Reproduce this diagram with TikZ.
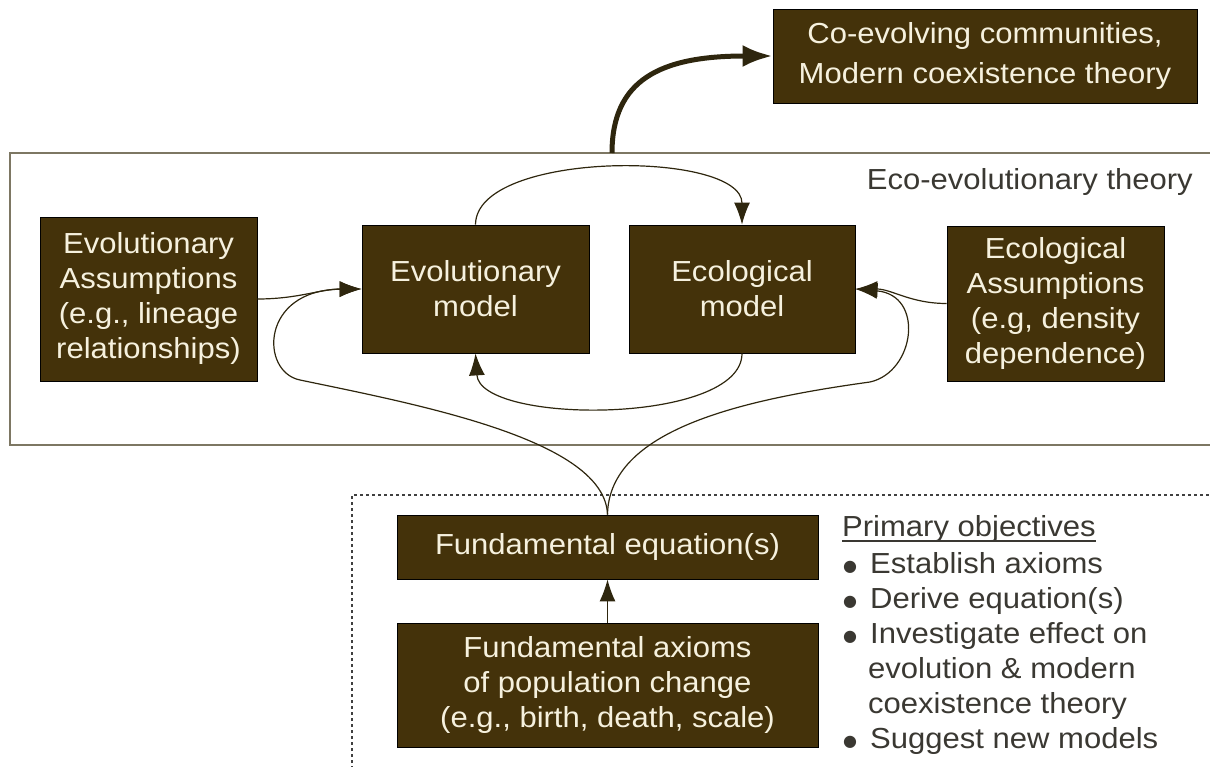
\documentclass[tikz,border=0pt]{standalone}
\usepackage{fontspec}
\setmainfont{Liberation Sans}[FakeStretch=1.07]
\newfontfamily\symfont{DejaVu Sans}
\usetikzlibrary{arrows.meta}
\definecolor{boxbrown}{RGB}{68,50,10}
\definecolor{boxtext}{RGB}{246,241,222}
\definecolor{linkbrown}{RGB}{46,38,14}
\definecolor{framegray}{RGB}{125,119,99}
\definecolor{notegray}{RGB}{58,56,50}
\newcommand{\objbullet}{\makebox[27pt][l]{\raisebox{1.5pt}{\symfont\fontsize{16}{35}\selectfont ●}}}

\begin{document}
\begin{tikzpicture}[x=1pt,y=-1pt,
    box/.style={draw=black,line width=0.8pt,fill=boxbrown,text=boxtext,align=center,
      inner sep=0pt,font=\fontsize{29}{35}\selectfont},
    link/.style={draw=linkbrown,line width=1.2pt,->,>={Latex[length=22pt,width=16pt]}},
    note/.style={text=notegray,inner sep=0pt,font=\fontsize{29}{35}\selectfont}]
  \useasboundingbox (0,0) rectangle (1210,767);

  % theory frame and objectives frame
  \draw[framegray,line width=2pt] (1220,153) -- (10,153) -- (10,445) -- (1220,445);
  \draw[black!75,line width=1.5pt,dash pattern=on 3pt off 3pt] (352,775) -- (352,495) -- (1220,495);
  \node[note,anchor=east] (ecoevo) at (1193,182) {Eco-evolutionary theory};
  \coordinate (theoryout) at (612,153);

  \node[box,minimum width=424pt,minimum height=94pt,font=\fontsize{29}{40}\selectfont] (com) at (985,56)
    {Co-evolving communities,\\Modern coexistence theory};
  \node[box,minimum width=217pt,minimum height=164pt] (evoass) at (148.5,299)
    {Evolutionary\\Assumptions\\(e.g., lineage\\relationships)};
  \node[box,minimum width=227pt,minimum height=128pt] (evomod) at (475.5,289) {Evolutionary\\model};
  \node[box,minimum width=226pt,minimum height=128pt] (ecomod) at (742,289) {Ecological\\model};
  \node[box,minimum width=217pt,minimum height=155pt] (ecoass) at (1055.5,303.5)
    {Ecological\\Assumptions\\(e.g, density\\dependence)};
  \node[box,minimum width=421pt,minimum height=64pt] (feq) at (607.5,547) {Fundamental equation(s)};
  \node[box,minimum width=421pt,minimum height=124pt] (fax) at (607.5,685)
    {Fundamental axioms\\of population change\\(e.g., birth, death, scale)};

  % objectives list
  \node[note,anchor=base west] (pobj) at (842,536) {Primary objectives};
  \draw[notegray,line width=1.2pt] ([yshift=-5pt]pobj.base west) -- ([yshift=-5pt]pobj.base east);
  \node[note,anchor=north west,align=left] (plist) at (843,552)
    {\objbullet Establish axioms\\
     \objbullet Derive equation(s)\\
     \objbullet Investigate effect on\\
     \hspace*{25pt}evolution \& modern\\
     \hspace*{25pt}coexistence theory\\
     \objbullet Suggest new models};

  % connectors
  \draw[link,line width=5pt,>={Latex[length=30pt,width=22pt]}] (theoryout) .. controls (612,80) and (660,56) .. (com.west);
  \draw[link] (evomod.north) .. controls (476,150) and (742,150) .. (ecomod.north);
  \draw[link] (ecomod.south) .. controls (742,425) and (480,425) .. (evomod.south);
  \draw[link] (evoass.east) to[out=0,in=180] (evomod.west);
  \draw[link] (ecoass.west) to[out=180,in=0] (ecomod.east);
  \draw[link] (feq.north) .. controls (605,440) and (420,405) .. (300,380)
    .. controls (260,372) and (260,290) .. (evomod.west);
  \draw[link] (feq.north) .. controls (609,430) and (740,400) .. (870,382)
    .. controls (915,372) and (925,295) .. (ecomod.east);
  \draw[link] (fax.north) -- (feq.south);
\end{tikzpicture}
\end{document}
